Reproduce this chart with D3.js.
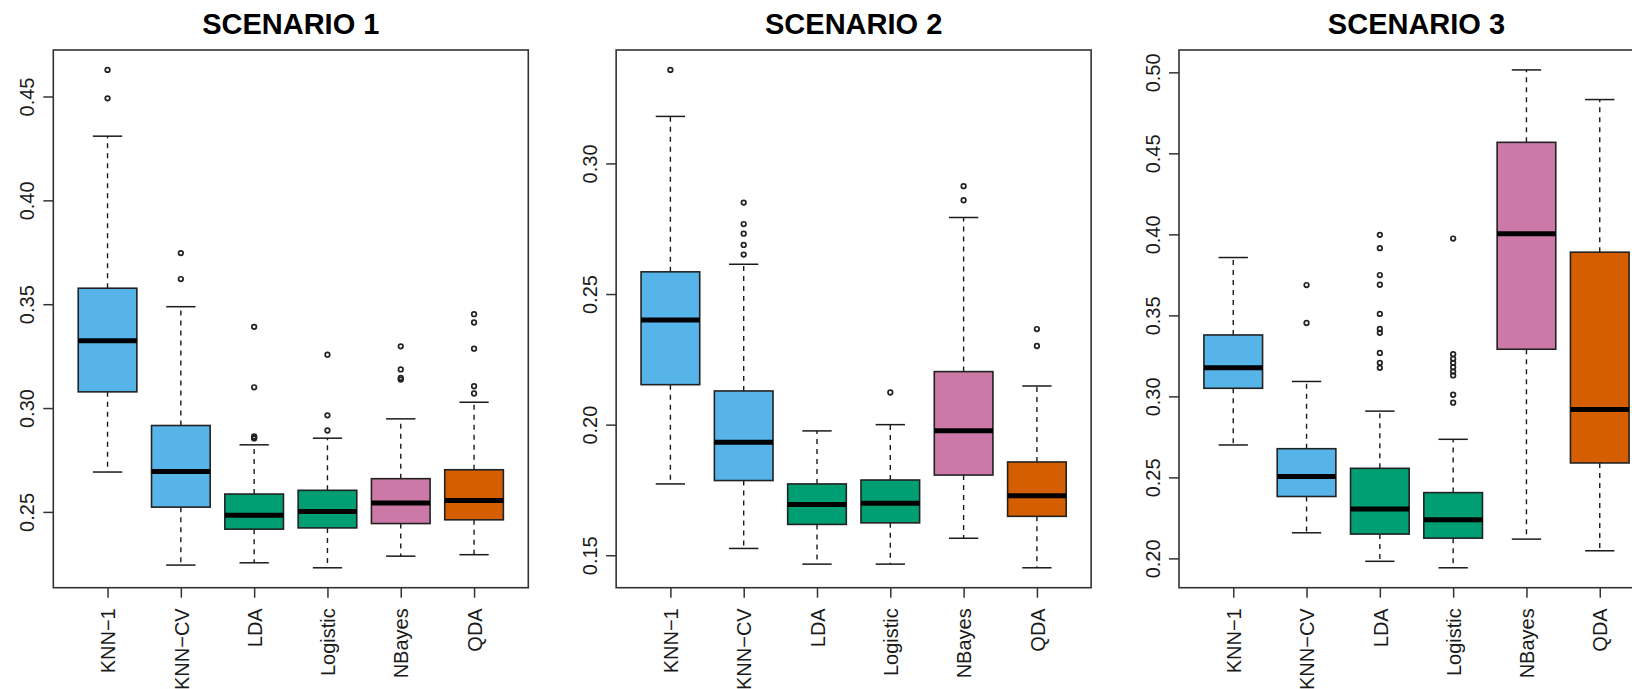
<!DOCTYPE html>
<html>
<head>
<meta charset="utf-8">
<script src="https://cdn.jsdelivr.net/npm/d3@7"></script>
<style>
  html, body { margin: 0; padding: 0; background: #fff; }
  svg { display: block; font-family: "Liberation Sans", Arial, Helvetica, sans-serif; }
</style>
</head>
<body>
<svg id="chart" width="1632" height="689"></svg>
<script>
// Methods on the x axis and their fill colours
const methods = ['KNN\u22121', 'KNN\u2212CV', 'LDA', 'Logistic', 'NBayes', 'QDA'];
const boxColors = ['#56B4E9', '#56B4E9', '#009E73', '#009E73', '#CC79A7', '#D55E00'];
const titles = ['SCENARIO 1', 'SCENARIO 2', 'SCENARIO 3'];

// Box summaries per method: [lower whisker, Q1, median, Q3, upper whisker]
const scenario1Stats = [
  [0.2692, 0.3078, 0.3324, 0.3577, 0.4309],
  [0.2244, 0.2523, 0.2695, 0.2916, 0.3488],
  [0.2255, 0.2417, 0.2484, 0.2586, 0.2823],
  [0.2231, 0.2423, 0.2502, 0.2604, 0.2855],
  [0.2287, 0.2444, 0.2543, 0.2660, 0.2948],
  [0.2294, 0.2462, 0.2555, 0.2703, 0.3028]
];
const scenario1Outliers = [
  [0.4628, 0.4491],
  [0.3746, 0.3621],
  [0.3391, 0.3100, 0.2863, 0.2858, 0.2854],
  [0.3257, 0.2965, 0.2892],
  [0.3297, 0.3186, 0.3145, 0.3137],
  [0.3452, 0.3412, 0.3286, 0.3105, 0.3070]
];

const scenario2Stats = [
  [0.1773, 0.2153, 0.2401, 0.2585, 0.3180],
  [0.1526, 0.1786, 0.1933, 0.2129, 0.2614],
  [0.1466, 0.1618, 0.1694, 0.1773, 0.1976],
  [0.1466, 0.1624, 0.1699, 0.1788, 0.2000],
  [0.1565, 0.1807, 0.1977, 0.2203, 0.2793],
  [0.1452, 0.1649, 0.1728, 0.1857, 0.2148]
];
const scenario2Outliers = [
  [0.3358],
  [0.2850, 0.2768, 0.2731, 0.2688, 0.2651],
  [],
  [0.2123],
  [0.2913, 0.2859],
  [0.2366, 0.2301]
];

const scenario3Stats = [
  [0.2700, 0.3050, 0.3176, 0.3379, 0.3857],
  [0.2158, 0.2382, 0.2505, 0.2677, 0.3092],
  [0.1982, 0.2150, 0.2305, 0.2556, 0.2909],
  [0.1942, 0.2125, 0.2238, 0.2406, 0.2735],
  [0.2119, 0.3291, 0.4003, 0.4568, 0.5015],
  [0.2047, 0.2589, 0.2919, 0.3890, 0.4832]
];
const scenario3Outliers = [
  [],
  [0.3687, 0.3453],
  [0.3997, 0.3915, 0.3749, 0.3689, 0.3509, 0.3416, 0.3392, 0.3268, 0.3207, 0.3176],
  [0.3974, 0.3260, 0.3232, 0.3207, 0.3180, 0.3153, 0.3129, 0.3010, 0.2961],
  [],
  []
];

const scenarios = [
  { title: titles[0], stats: scenario1Stats, outliers: scenario1Outliers },
  { title: titles[1], stats: scenario2Stats, outliers: scenario2Outliers },
  { title: titles[2], stats: scenario3Stats, outliers: scenario3Outliers }
];

// layout (panels repeat every ~563px; the third one runs off the right edge)
const PANEL_LEFT = 53.3;
const PANEL_STEP = 562.85;
const PLOT_TOP = 50;
const PLOT_W = 475;
const PLOT_H = 537.7;
const BOX_WIDTH = 0.8;
const TICK = 10;
const INK = '#1a1a1a';
const FRAME = '#333';

const svg = d3.select('#chart');

scenarios.forEach((sc, p) => {
  const g = svg.append('g')
    .attr('transform', `translate(${PANEL_LEFT + p * PANEL_STEP},${PLOT_TOP})`);

  // R style: 4% padding around data range
  const allVals = sc.stats.flat().concat(sc.outliers.flat());
  const lo = d3.min(allVals), hi = d3.max(allVals);
  const pad = (hi - lo) * 0.04;
  const y = d3.scaleLinear().domain([lo - pad, hi + pad]).range([PLOT_H, 0]);
  const x = d3.scaleLinear().domain([0.26, 6.74]).range([0, PLOT_W]);
  const half = (x(1 + BOX_WIDTH / 2) - x(1));
  const capHalf = half / 2;

  const rows = sc.stats.map((s, i) => ({
    i: i + 1, lo: s[0], q1: s[1], med: s[2], q3: s[3], hi: s[4],
    color: boxColors[i], out: sc.outliers[i]
  }));

  const boxes = g.selectAll('g.box').data(rows).join('g').attr('class', 'box');

  // dashed whiskers
  boxes.append('line')
    .attr('x1', d => x(d.i)).attr('x2', d => x(d.i))
    .attr('y1', d => y(d.q3)).attr('y2', d => y(d.hi))
    .attr('stroke', INK).attr('stroke-width', 1.4).attr('stroke-dasharray', '5,5');
  boxes.append('line')
    .attr('x1', d => x(d.i)).attr('x2', d => x(d.i))
    .attr('y1', d => y(d.q1)).attr('y2', d => y(d.lo))
    .attr('stroke', INK).attr('stroke-width', 1.4).attr('stroke-dasharray', '5,5');
  // whisker caps
  ['lo', 'hi'].forEach(k => {
    boxes.append('line')
      .attr('x1', d => x(d.i) - capHalf).attr('x2', d => x(d.i) + capHalf)
      .attr('y1', d => y(d[k])).attr('y2', d => y(d[k]))
      .attr('stroke', INK).attr('stroke-width', 1.5);
  });

  // box body
  boxes.append('rect')
    .attr('x', d => x(d.i) - half)
    .attr('width', half * 2)
    .attr('y', d => y(d.q3))
    .attr('height', d => y(d.q1) - y(d.q3))
    .attr('fill', d => d.color)
    .attr('stroke', '#222').attr('stroke-width', 1.6);

  // median
  boxes.append('line')
    .attr('x1', d => x(d.i) - half).attr('x2', d => x(d.i) + half)
    .attr('y1', d => y(d.med)).attr('y2', d => y(d.med))
    .attr('stroke', '#000').attr('stroke-width', 5);

  // outliers
  boxes.selectAll('circle')
    .data(d => d.out.map(v => ({ i: d.i, v })))
    .join('circle')
    .attr('cx', d => x(d.i))
    .attr('cy', d => y(d.v))
    .attr('r', 2.3)
    .attr('fill', 'none')
    .attr('stroke', '#222')
    .attr('stroke-width', 1.7);

  // frame
  g.append('rect')
    .attr('width', PLOT_W).attr('height', PLOT_H)
    .attr('fill', 'none').attr('stroke', FRAME).attr('stroke-width', 1.6);

  // y axis
  const yAxis = g.append('g')
    .call(d3.axisLeft(y).ticks(5).tickFormat(d3.format('.2f')).tickSize(TICK));
  yAxis.select('.domain').remove();
  yAxis.selectAll('.tick line').attr('stroke', FRAME).attr('stroke-width', 1.5);
  yAxis.selectAll('.tick text')
    .attr('x', null).attr('dy', null)
    .attr('transform', 'translate(-19,0) rotate(-90)')
    .attr('text-anchor', 'middle')
    .attr('fill', INK)
    .style('font-size', '20px')
    .style('font-family', '"Liberation Sans", Arial, sans-serif');

  // x axis
  const xAxis = g.append('g')
    .attr('transform', `translate(0,${PLOT_H})`)
    .call(d3.axisBottom(x).tickValues(d3.range(1, methods.length + 1))
      .tickFormat(i => methods[i - 1]).tickSize(TICK));
  xAxis.select('.domain').remove();
  xAxis.selectAll('.tick line').attr('stroke', FRAME).attr('stroke-width', 1.5);
  xAxis.selectAll('.tick text')
    .attr('y', null).attr('dy', null)
    .attr('transform', 'translate(0,20.6) rotate(-90)')
    .attr('text-anchor', 'end')
    .attr('dy', '0.36em')
    .attr('fill', INK)
    .style('font-size', '20px')
    .style('font-family', '"Liberation Sans", Arial, sans-serif');

  // title
  g.append('text')
    .attr('x', PLOT_W / 2)
    .attr('y', 34 - PLOT_TOP)
    .attr('text-anchor', 'middle')
    .attr('fill', '#000')
    .style('font-size', '29px')
    .style('font-weight', 'bold')
    .text(sc.title);
});
</script>
</body>
</html>
